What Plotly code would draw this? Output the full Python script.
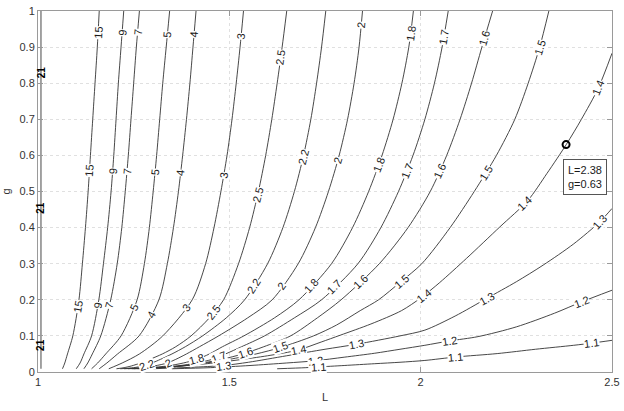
import math
import plotly.graph_objects as go

# ---------------- data ----------------
LEVEL_TEXT = ["15", "9", "7", "5", "4", "3", "2.5", "2.2", "2", "1.8", "1.7",
              "1.6", "1.5", "1.4", "1.3", "1.2", "1.1"]

G_STEEP = [1.0, 0.9, 0.8, 0.7, 0.6, 0.5, 0.4, 0.3, 0.2, 0.1, 0.05, 0.025, 0.009]
L_15 = [1.160, 1.155, 1.149, 1.143, 1.137, 1.131, 1.124, 1.116, 1.107, 1.091, 1.077, 1.070, 1.064]
L_9 = [1.224, 1.217, 1.210, 1.204, 1.198, 1.191, 1.182, 1.171, 1.159, 1.140, 1.120, 1.110, 1.100]
L_7 = [1.265, 1.257, 1.250, 1.243, 1.236, 1.228, 1.219, 1.207, 1.190, 1.164, 1.142, 1.130, 1.120]
L_5 = [1.344, 1.335, 1.326, 1.318, 1.310, 1.301, 1.291, 1.278, 1.259, 1.217, 1.177, 1.156, 1.140]
L_4 = [1.413, 1.405, 1.397, 1.388, 1.378, 1.367, 1.354, 1.338, 1.316, 1.264, 1.208, 1.180, 1.160]
L_3 = [1.537, 1.528, 1.518, 1.507, 1.494, 1.478, 1.460, 1.438, 1.403, 1.326, 1.265, 1.220, 1.185]

G_FAN = [1.0, 0.9, 0.8, 0.7, 0.6, 0.5, 0.4, 0.3, 0.2, 0.15, 0.1, 0.07, 0.05, 0.035, 0.025, 0.017, 0.012, 0.009]
L_2_5 = [1.650, 1.638, 1.625, 1.611, 1.595, 1.576, 1.553, 1.524, 1.485, 1.448, 1.400, 1.360, 1.325, 1.292, 1.268, 1.245, 1.225, 1.205]
L_2_2 = [1.752, 1.741, 1.728, 1.713, 1.694, 1.670, 1.640, 1.600, 1.540, 1.492, 1.430, 1.385, 1.350, 1.320, 1.298, 1.275, 1.250, 1.215]
L_2_0 = [1.848, 1.839, 1.826, 1.809, 1.787, 1.759, 1.725, 1.680, 1.612, 1.548, 1.472, 1.422, 1.388, 1.360, 1.338, 1.305, 1.270, 1.225]
L_1_8 = [1.981, 1.969, 1.951, 1.928, 1.899, 1.864, 1.822, 1.767, 1.682, 1.618, 1.538, 1.482, 1.448, 1.415, 1.380, 1.340, 1.290, 1.235]
L_1_7 = [2.072, 2.056, 2.036, 2.011, 1.980, 1.942, 1.896, 1.836, 1.741, 1.670, 1.592, 1.532, 1.490, 1.455, 1.415, 1.365, 1.305, 1.245]
L_1_6 = [2.188, 2.160, 2.133, 2.103, 2.068, 2.025, 1.967, 1.892, 1.792, 1.730, 1.660, 1.590, 1.535, 1.480, 1.430, 1.375, 1.315, 1.250]

G_1_5 = [1.0, 0.9, 0.8, 0.7, 0.6, 0.5, 0.4, 0.3, 0.25, 0.2, 0.17, 0.13, 0.1, 0.068, 0.05, 0.035, 0.025, 0.017, 0.012, 0.009]
L_1_5 = [2.335, 2.311, 2.281, 2.246, 2.198, 2.140, 2.077, 2.003, 1.948, 1.890, 1.842, 1.780, 1.720, 1.634, 1.570, 1.500, 1.440, 1.380, 1.320, 1.260]

L_1_4 = [2.5, 2.464, 2.42, 2.381, 2.33, 2.28, 2.207, 2.12, 2.05, 2.0, 1.95, 1.87, 1.79, 1.74, 1.68, 1.60, 1.52, 1.45, 1.38, 1.32, 1.27]
G_1_4 = [0.883, 0.786, 0.70, 0.631, 0.55, 0.475, 0.402, 0.315, 0.248, 0.205, 0.170, 0.133, 0.102, 0.083, 0.061, 0.045, 0.033, 0.024, 0.017, 0.012, 0.009]

L_1_3 = [2.5, 2.468, 2.40, 2.32, 2.25, 2.172, 2.09, 2.011, 1.946, 1.833, 1.75, 1.65, 1.55, 1.485, 1.40, 1.30]
G_1_3 = [0.453, 0.416, 0.355, 0.296, 0.25, 0.2035, 0.155, 0.116, 0.100, 0.077, 0.063, 0.045, 0.027, 0.018, 0.013, 0.009]

L_1_2 = [2.5, 2.42, 2.35, 2.25, 2.15, 2.075, 2.011, 1.946, 1.88, 1.80, 1.724, 1.65, 1.554, 1.45, 1.35]
G_1_2 = [0.2265, 0.194, 0.163, 0.125, 0.098, 0.086, 0.074, 0.063, 0.052, 0.041, 0.031, 0.025, 0.018, 0.012, 0.009]

L_1_1 = [2.5, 2.447, 2.40, 2.30, 2.20, 2.092, 2.011, 1.946, 1.88, 1.80, 1.733, 1.70, 1.625]
G_1_1 = [0.0877, 0.080, 0.074, 0.063, 0.051, 0.0416, 0.032, 0.027, 0.023, 0.018, 0.014, 0.012, 0.009]

# crowded contour hugging the left axis
L_EDGE = [1.0078, 1.0078]
G_EDGE = [0.009, 1.0]
EDGE_LABEL_G = [0.83, 0.455, 0.075]

# contour label positions (level text, L, g)
LABELS = [
    ("15", 1.157, 0.94), ("15", 1.135, 0.559), ("15", 1.107, 0.18),
    ("9", 1.222, 0.94), ("9", 1.196, 0.555), ("9", 1.158, 0.183),
    ("7", 1.263, 0.94), ("7", 1.235, 0.555), ("7", 1.188, 0.185),
    ("5", 1.341, 0.935), ("5", 1.305, 0.554), ("5", 1.251, 0.178),
    ("4", 1.410, 0.935), ("4", 1.374, 0.55), ("4", 1.301, 0.155),
    ("3", 1.533, 0.93), ("3", 1.486, 0.543), ("3", 1.389, 0.176),
    ("2.5", 1.644, 0.87), ("2.5", 1.578, 0.49), ("2.5", 1.46, 0.165),
    ("2.2", 1.685, 0.596), ("2.2", 1.567, 0.236), ("2.2", 1.285, 0.019),
    ("2", 1.846, 0.961), ("2", 1.770, 0.589), ("2", 1.633, 0.24), ("2", 1.341, 0.025),
    ("1.8", 1.970, 0.938), ("1.8", 1.881, 0.578), ("1.8", 1.711, 0.24), ("1.8", 1.415, 0.034),
    ("1.7", 2.055, 0.929), ("1.7", 1.950, 0.564), ("1.7", 1.772, 0.236), ("1.7", 1.472, 0.0435),
    ("1.6", 2.168, 0.924), ("1.6", 2.046, 0.559), ("1.6", 1.846, 0.245), ("1.6", 1.541, 0.053),
    ("1.5", 2.307, 0.90), ("1.5", 2.168, 0.554), ("1.5", 1.946, 0.254), ("1.5", 1.634, 0.068),
    ("1.4", 2.464, 0.786), ("1.4", 2.277, 0.462), ("1.4", 2.011, 0.208), ("1.4", 1.68, 0.06),
    ("1.3", 2.468, 0.416), ("1.3", 2.172, 0.2035), ("1.3", 1.833, 0.077), ("1.3", 1.485, 0.018),
    ("1.2", 2.42, 0.194), ("1.2", 2.075, 0.088), ("1.2", 1.724, 0.031),
    ("1.1", 2.447, 0.080), ("1.1", 2.092, 0.0416), ("1.1", 1.733, 0.014),
]

POINT_L = [2.38]
POINT_G = [0.63]
POINT_TEXT = "L=2.38<br>g=0.63"

CONTOURS = {
    "15": (L_15, G_STEEP), "9": (L_9, G_STEEP), "7": (L_7, G_STEEP),
    "5": (L_5, G_STEEP), "4": (L_4, G_STEEP), "3": (L_3, G_STEEP),
    "2.5": (L_2_5, G_FAN), "2.2": (L_2_2, G_FAN), "2": (L_2_0, G_FAN),
    "1.8": (L_1_8, G_FAN), "1.7": (L_1_7, G_FAN), "1.6": (L_1_6, G_FAN),
    "1.5": (L_1_5, G_1_5), "1.4": (L_1_4, G_1_4), "1.3": (L_1_3, G_1_3),
    "1.2": (L_1_2, G_1_2), "1.1": (L_1_1, G_1_1),
}

# ---------------- figure ----------------
W, H = 624, 411
ML, MR, MT, MB = 38, 12, 11, 39
SX = (W - ML - MR) / 1.5   # px per unit L
SY = (H - MT - MB) / 1.0   # px per unit g
FONT = "Liberation Sans, Arial, Helvetica, sans-serif"
LINE_COLOR = "#333333"

fig = go.Figure()

for name in LEVEL_TEXT:
    xs, ys = CONTOURS[name]
    fig.add_trace(go.Scatter(x=xs, y=ys, mode="lines",
                             line=dict(color=LINE_COLOR, width=0.9, shape="spline", smoothing=0.8),
                             hoverinfo="skip", showlegend=False))

fig.add_trace(go.Scatter(x=L_EDGE, y=G_EDGE, mode="lines",
                         line=dict(color=LINE_COLOR, width=0.9),
                         hoverinfo="skip", showlegend=False))


def snap(xs, ys, lx, ly):
    best = None
    for i in range(len(xs) - 1):
        x0, y0 = xs[i] * SX, ys[i] * SY
        x1, y1 = xs[i + 1] * SX, ys[i + 1] * SY
        px, py = lx * SX, ly * SY
        dx, dy = x1 - x0, y1 - y0
        seg = dx * dx + dy * dy
        t = 0 if seg == 0 else max(0, min(1, ((px - x0) * dx + (py - y0) * dy) / seg))
        cx, cy = x0 + t * dx, y0 + t * dy
        d = (cx - px) ** 2 + (cy - py) ** 2
        if best is None or d < best[0]:
            best = (d, cx / SX, cy / SY, dx, dy)
    _, bx, by, dx, dy = best
    ang = math.degrees(math.atan2(-dy, dx))
    while ang > 90:
        ang -= 180
    while ang <= -90:
        ang += 180
    return bx, by, ang


annotations = []
for txt, lx, ly in LABELS:
    xs, ys = CONTOURS[txt]
    bx, by, ang = snap(xs, ys, lx, ly)
    annotations.append(dict(x=bx, y=by, xref="x", yref="y", text=txt, showarrow=False,
                            textangle=ang, bgcolor="white", borderpad=0,
                            font=dict(family=FONT, size=11, color="#1a1a1a")))

for gy in EDGE_LABEL_G:
    annotations.append(dict(x=L_EDGE[0], y=gy, xref="x", yref="y", text="<b>21</b>",
                            showarrow=False, textangle=-90, borderpad=0,
                            font=dict(family=FONT, size=10, color="black")))

# data tip
fig.add_trace(go.Scatter(x=POINT_L, y=POINT_G, mode="markers",
                         marker=dict(symbol="circle-open", size=7, color="black",
                                     line=dict(width=2, color="black")),
                         hoverinfo="skip", showlegend=False))
annotations.append(dict(x=POINT_L[0] - 0.009, y=POINT_G[0] - 0.041, xref="x", yref="y",
                        xanchor="left", yanchor="top", text=POINT_TEXT, align="left",
                        showarrow=False, bgcolor="white", bordercolor="#555555",
                        borderwidth=1, borderpad=4,
                        font=dict(family=FONT, size=11, color="#1a1a1a")))

axis_common = dict(showgrid=True, gridcolor="#e0e0e0", griddash="dot", gridwidth=1,
                   showline=True, linecolor="#9a9a9a", linewidth=1, mirror="ticks",
                   ticks="inside", ticklen=5, tickcolor="#9a9a9a", zeroline=False,
                   automargin=False, ticklabeloverflow="allow",
                   tickfont=dict(family=FONT, size=11, color="#333333"))

fig.update_layout(
    width=W, height=H,
    margin=dict(l=ML, r=MR, t=MT, b=MB, pad=0),
    paper_bgcolor="white", plot_bgcolor="white",
    annotations=annotations,
    xaxis=dict(range=[1, 2.5], tickvals=[1, 1.5, 2, 2.5], ticktext=["1", "1.5", "2", "2.5"],
               title=dict(text="L", standoff=6, font=dict(family=FONT, size=11, color="#333333")),
               **axis_common),
    yaxis=dict(range=[0, 1], tickvals=[i / 10 for i in range(11)],
               ticktext=["0", "0.1", "0.2", "0.3", "0.4", "0.5", "0.6", "0.7", "0.8", "0.9", "1"],
               title=dict(text="g", standoff=6, font=dict(family=FONT, size=11, color="#333333")),
               **axis_common),
)

fig.write_html("out.html", config={"displayModeBar": False},
               post_script="document.body.style.margin='0';document.body.style.overflow='hidden';")
